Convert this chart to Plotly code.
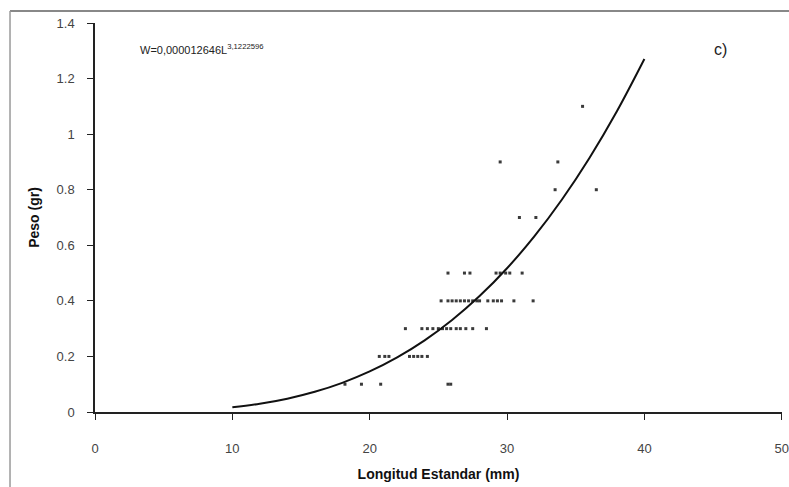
import plotly.graph_objects as go

# Observed points (Longitud Estandar mm, Peso gr)
x_01 = [18.2, 19.4, 20.8, 25.7, 25.9]
x_02 = [20.7, 21.1, 21.4, 22.9, 23.2, 23.5, 23.8, 24.2]
x_03 = [22.6, 23.8, 24.2, 24.6, 25.0, 25.3, 25.6, 25.9, 26.3, 26.6, 27.0, 27.5, 28.5]
x_04 = [25.2, 25.7, 26.0, 26.3, 26.6, 26.9, 27.2, 27.5, 27.8, 28.0, 28.6, 29.0, 29.3, 29.6, 30.5, 31.9]
x_05 = [25.7, 26.9, 27.3, 29.2, 29.5, 29.9, 30.2, 31.1]
x_07 = [30.9, 32.1]
x_08 = [33.5, 36.5]
x_09 = [29.5, 33.7]
x_11 = [35.5]

rows = [(0.1, x_01), (0.2, x_02), (0.3, x_03), (0.4, x_04), (0.5, x_05),
        (0.7, x_07), (0.8, x_08), (0.9, x_09), (1.1, x_11)]

# Fitted curve W = 0.000012646 L^3.1222 (sampled values)
curve_L = [10, 12, 14, 16, 18, 20, 22, 24, 26, 28, 30, 32, 34, 36, 38, 40]
curve_W = [0.01676, 0.02961, 0.04791, 0.07269, 0.1050, 0.1459, 0.1965, 0.2578,
           0.3310, 0.4172, 0.5174, 0.6329, 0.7649, 0.9143, 1.0824, 1.2704]

x_ticks = [0, 10, 20, 30, 40, 50]
y_ticks = [0, 0.2, 0.4, 0.6, 0.8, 1, 1.2, 1.4]
y_tick_text = ["0", "0.2", "0.4", "0.6", "0.8", "1", "1.2", "1.4"]

px_, py_ = [], []
for yv, xs in rows:
    for xv in xs:
        px_.append(xv)
        py_.append(yv)

FONT = "Arial, Liberation Sans, sans-serif"

fig = go.Figure()
fig.add_trace(go.Scatter(x=px_, y=py_, mode="markers",
                         marker=dict(size=3, color="#3a3a3a", symbol="square"),
                         showlegend=False, hoverinfo="skip"))
fig.add_trace(go.Scatter(x=curve_L, y=curve_W, mode="lines",
                         line=dict(color="#111111", width=2, shape="spline"),
                         showlegend=False, hoverinfo="skip"))

fig.update_layout(
    width=789, height=487,
    margin=dict(l=95, r=7, t=23, b=75),
    paper_bgcolor="white", plot_bgcolor="white",
    font=dict(family=FONT, color="#333333"),
    xaxis=dict(range=[0, 50.02], tickvals=x_ticks, showgrid=False, zeroline=False,
               automargin=False,
               showline=True, linecolor="#222222", linewidth=1.5,
               ticks="outside", ticklen=6, tickcolor="#222222",
               ticklabelstandoff=18, ticklabeloverflow="allow",
               tickfont=dict(size=13, color="#444444"),
               title=dict(text="<b>Longitud Estandar (mm)</b>", standoff=14,
                          font=dict(size=14, color="#111111"))),
    yaxis=dict(range=[0, 1.4], tickvals=y_ticks, ticktext=y_tick_text,
               showgrid=False, zeroline=False, automargin=False,
               showline=True, linecolor="#222222", linewidth=1.5,
               ticks="outside", ticklen=6, tickcolor="#222222",
               ticklabelstandoff=10,
               tickfont=dict(size=13, color="#444444"),
               title=dict(text="<b>Peso (gr)</b>", standoff=14,
                          font=dict(size=14, color="#111111"))),
    annotations=[
        dict(text="W=0,000012646L<sup>3,1222596</sup>", xref="paper", yref="paper",
             x=0.062, y=0.932, xanchor="left", yanchor="middle", showarrow=False,
             font=dict(size=11, color="#222222")),
        dict(text="c)", xref="paper", yref="paper", x=0.91, y=0.932,
             xanchor="center", yanchor="middle", showarrow=False,
             font=dict(size=16, color="#222222")),
    ],
    shapes=[
        dict(type="line", xref="paper", yref="paper", x0=-0.1237, x1=1.02,
             y0=1.031, y1=1.031, line=dict(color="#888888", width=2)),
        dict(type="line", xref="paper", yref="paper", x0=-0.1237, x1=-0.1237,
             y0=1.031, y1=-0.2, line=dict(color="#999999", width=1.5)),
    ],
)

fig.write_html("out.html")
